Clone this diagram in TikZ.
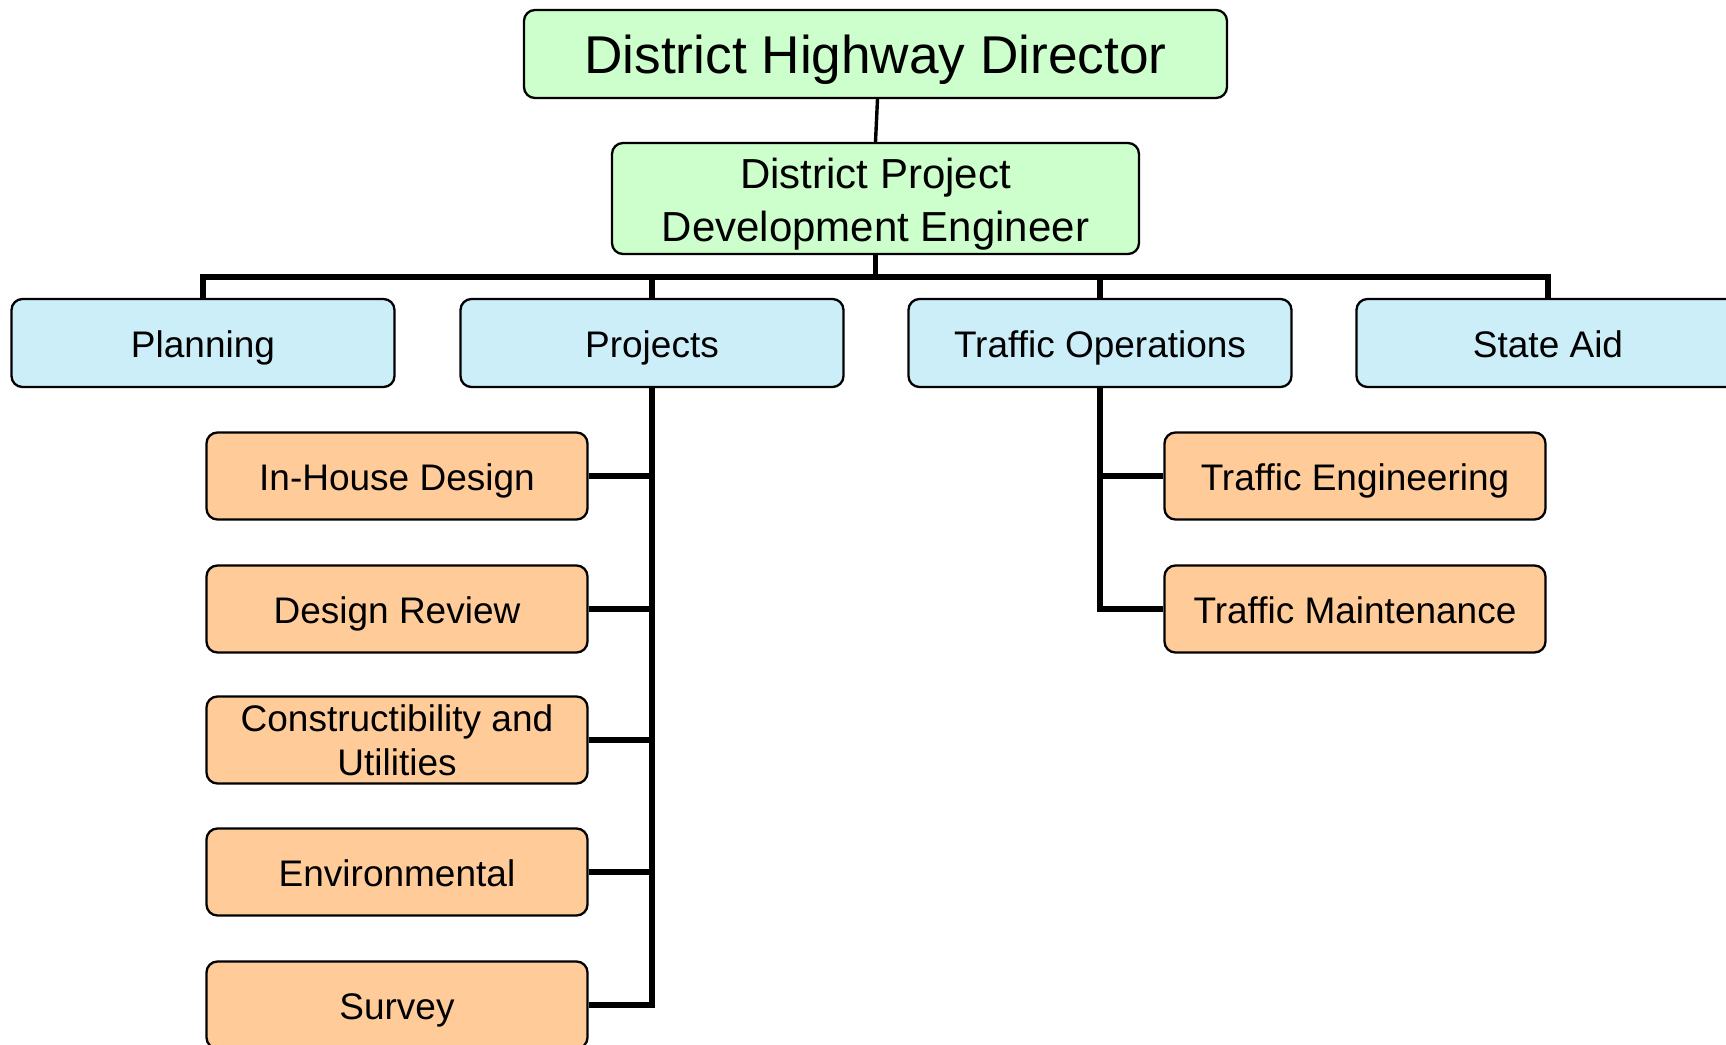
\documentclass[tikz,border=0pt]{standalone}
\usepackage{fontspec}
\setmainfont{Liberation Sans}
\usetikzlibrary{positioning}
\definecolor{headgreen}{RGB}{204,255,204}
\definecolor{unitblue}{RGB}{204,238,248}
\definecolor{taskorange}{RGB}{255,204,153}

\tikzset{
  box/.style={draw=black, line width=1.15pt, rounded corners=5.5pt, align=center, inner sep=0pt},
  headbox/.style={box, fill=headgreen},
  unitbox/.style={box, fill=unitblue, minimum width=191.5pt, minimum height=44pt,
    text height=14.4pt, text depth=0pt, font=\fontsize{18.5}{22}\selectfont},
  taskbox/.style={box, fill=taskorange, minimum width=190.5pt, minimum height=43.5pt,
    font=\fontsize{18.5}{22}\selectfont},
  oneline/.style={text height=14.4pt, text depth=0pt},
  link/.style={line width=2.6pt}
}

\begin{document}
\begin{tikzpicture}[x=0.5pt, y=-0.5pt]
\useasboundingbox (0,0) rectangle (1726,1045);

% Top of the chart
\node[headbox, minimum width=351.5pt, minimum height=44pt, text height=19.3pt, text depth=0pt,
  font=\fontsize{26.6}{32}\selectfont] (dir) at (875.5,54) {District Highway Director};
\node[headbox, minimum width=263.5pt, minimum height=55.5pt, text height=47.3pt,
  font=\fontsize{21}{26.4}\selectfont] (dpde) at (875.5,198.5) {District Project\\Development Engineer};

% Units
\node[unitbox] (plan) at (203,343) {Planning};
\node[unitbox] (proj) at (652,343) {Projects};
\node[unitbox] (traf) at (1100,343) {Traffic Operations};
\node[unitbox] (said) at (1548,343) {State Aid};

% Project tasks
\node[taskbox, oneline] (inhouse) at (397,476) {In-House Design};
\node[taskbox, oneline] (review) at (397,609) {Design Review};
\node[taskbox] (constr) at (397,740) {Constructibility and\\Utilities};
\node[taskbox, oneline] (envir) at (397,872) {Environmental};
\node[taskbox, oneline] (survey) at (397,1005) {Survey};

% Traffic tasks
\node[taskbox, oneline] (tfeng) at (1355,476) {Traffic Engineering};
\node[taskbox, oneline] (tfmaint) at (1355,609) {Traffic Maintenance};

% Connectors
\coordinate (bus) at (875.5,277);
\draw[line width=1.7pt] ([xshift=1pt]dir.south) -- (dpde.north);
\draw[link] (dpde.south) -- (bus);
\draw[link] (plan.north) |- (bus) -| (said.north);
\draw[link] (proj.north) -- (proj.north |- bus);
\draw[link] (traf.north) -- (traf.north |- bus);

\draw[link] (proj.south) |- (survey.east);
\foreach \t in {inhouse,review,constr,envir}
  \draw[link] (\t.east) -- (proj.south |- \t.east);

\draw[link] (traf.south) |- (tfmaint.west);
\draw[link] (tfeng.west) -- (traf.south |- tfeng.west);
\end{tikzpicture}
\end{document}
